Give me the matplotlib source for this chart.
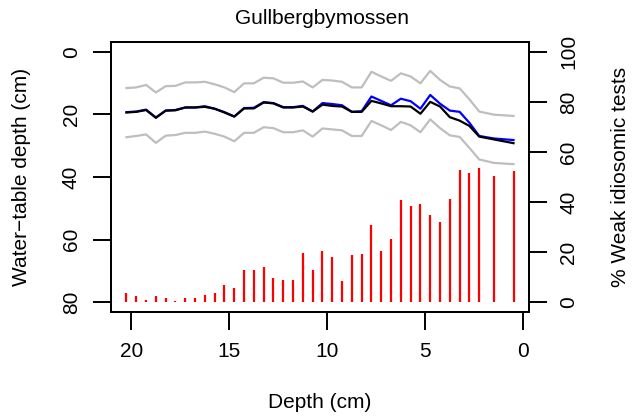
import matplotlib
matplotlib.use("Agg")
import matplotlib.pyplot as plt

plt.rcParams['font.family'] = ['Liberation Sans', 'DejaVu Sans']

# sample depths (cm)
depth = [20.25, 19.75, 19.25, 18.75, 18.25, 17.75, 17.25, 16.75, 16.25, 15.75,
         15.25, 14.75, 14.25, 13.75, 13.25, 12.75, 12.25, 11.75, 11.25, 10.75,
         10.25, 9.75, 9.25, 8.75, 8.25, 7.75, 7.25, 6.75, 6.25, 5.75,
         5.25, 4.75, 4.25, 3.75, 3.25, 2.75, 2.25, 1.5, 0.5]

# reconstructed water-table depth (cm), all tests
wtd_all = [19.3, 19.1, 18.5, 21.0, 18.8, 18.6, 17.8, 17.8, 17.4, 18.2,
           19.3, 20.7, 18.0, 17.9, 16.1, 16.4, 17.7, 17.7, 17.3, 19.1,
           16.4, 16.7, 17.1, 19.2, 19.0, 14.3, 15.7, 17.1, 15.0, 15.8,
           18.2, 13.8, 16.6, 18.8, 19.2, 22.7, 26.9, 27.7, 28.2]

# reconstruction without weak idiosomic tests
wtd_excl = [19.4, 19.2, 18.6, 21.1, 18.8, 18.7, 17.8, 17.8, 17.6, 18.2,
            19.4, 20.7, 18.1, 18.1, 16.2, 16.5, 17.8, 17.8, 17.5, 19.1,
            16.9, 17.3, 17.5, 19.2, 19.2, 15.7, 16.5, 17.4, 17.4, 17.5,
            19.8, 16.0, 17.5, 20.9, 22.0, 23.7, 27.1, 28.0, 29.2]

# error bounds
wtd_upper = [11.6, 11.4, 10.6, 13.0, 11.0, 10.9, 9.8, 9.8, 9.6, 10.4,
             11.4, 12.9, 10.1, 10.1, 8.3, 8.5, 9.9, 9.9, 9.5, 11.4,
             9.0, 9.2, 9.6, 11.4, 11.4, 6.4, 7.9, 9.3, 6.9, 7.9,
             10.1, 6.1, 9.0, 11.1, 11.7, 15.2, 19.1, 20.1, 20.5]
wtd_lower = [27.3, 26.9, 26.4, 29.1, 26.8, 26.6, 25.9, 25.9, 25.5, 26.2,
             27.1, 28.6, 25.9, 25.9, 24.1, 24.4, 25.7, 25.7, 25.1, 27.1,
             24.5, 24.8, 25.1, 26.9, 26.9, 22.1, 23.5, 25.0, 22.4, 23.5,
             25.7, 21.6, 24.4, 26.7, 27.2, 30.7, 34.4, 35.5, 35.9]

# % weak idiosomic tests
weak_pct = [3.7, 2.4, 1.1, 2.4, 1.7, 0.4, 1.7, 1.7, 2.8, 3.6,
            6.9, 5.6, 12.8, 12.8, 14.0, 9.6, 8.7, 8.7, 19.6, 13.0,
            20.5, 17.9, 8.4, 18.9, 19.4, 30.8, 20.6, 25.3, 40.9, 38.5,
            39.2, 34.9, 32.1, 41.4, 52.9, 51.6, 53.6, 50.3, 52.4]

fs = 15
fig = plt.figure(figsize=(6.43, 4.19), dpi=100)
ax = fig.add_axes([111 / 643, 1 - 312.3 / 419, 418 / 643, 270.6 / 419])
ax2 = ax.twinx()

ax2.vlines(depth, 0, weak_pct, color='#FF0000', lw=1.6)
ax.plot(depth, wtd_upper, color='#BEBEBE', lw=1.6)
ax.plot(depth, wtd_lower, color='#BEBEBE', lw=1.6)
ax.plot(depth, wtd_all, color='#0000FF', lw=1.6)
ax.plot(depth, wtd_excl, color='black', lw=1.6)
ax.set_zorder(ax2.get_zorder() + 1)
ax.patch.set_visible(False)

ax.set_xlim(21.04, -0.29)
ax.set_ylim(83.2, -3.2)
ax2.set_ylim(-4, 104)

ax.set_xticks([20, 15, 10, 5, 0])
ax.set_yticks([0, 20, 40, 60, 80])
ax2.set_yticks([0, 20, 40, 60, 80, 100])

for a in (ax, ax2):
    for s in a.spines.values():
        s.set_linewidth(1.4)
    a.tick_params(length=12.7, width=1.4, labelsize=fs, pad=9)
for lab in ax.get_yticklabels():
    lab.set_rotation(90)
    lab.set_va('center')
for lab in ax2.get_yticklabels():
    lab.set_rotation(90)
    lab.set_va('center')

fig.text(322 / 643, 1 - 18 / 419, 'Gullbergbymossen', ha='center', va='center', fontsize=fs)
fig.text(320 / 643, 1 - 402 / 419, 'Depth (cm)', ha='center', va='center', fontsize=fs)
fig.text(22 / 643, 1 - 177 / 419, 'Water\u2212table depth (cm)', ha='center', va='center',
         rotation=90, fontsize=fs)
fig.text(621 / 643, 1 - 177 / 419, '% Weak idiosomic tests', ha='center', va='center',
         rotation=90, fontsize=fs)

fig.savefig('out.png', dpi=100)
